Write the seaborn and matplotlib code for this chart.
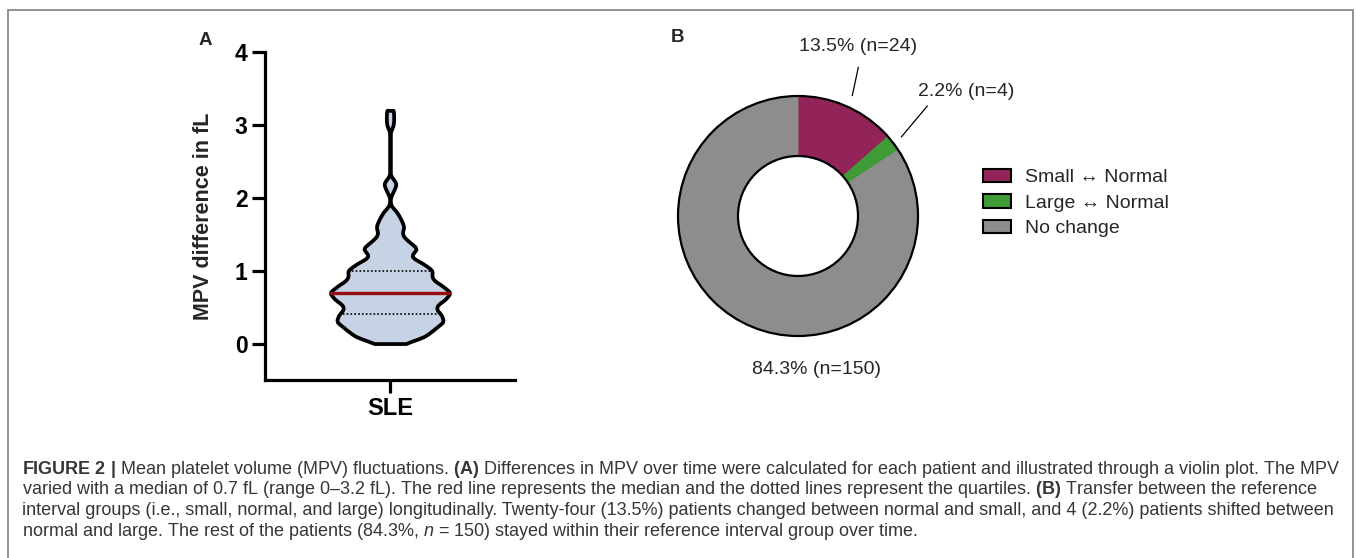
import numpy as np
import pandas as pd
import matplotlib
matplotlib.use("Agg")
import matplotlib.pyplot as plt
from matplotlib import font_manager
from matplotlib.patches import Rectangle, Circle
import seaborn as sns

# ---------------- data ----------------
# Panel A: MPV difference (fL) per patient -> value levels and number of patients at each level
mpv_levels = [0.0, 0.1, 0.2, 0.3, 0.4, 0.5, 0.6, 0.7, 0.8, 0.9,
              1.0, 1.1, 1.2, 1.3, 1.4, 1.5, 1.6, 1.7, 1.8, 1.9,
              2.0, 2.1, 2.2, 2.3, 2.4, 2.5, 2.6, 2.7, 2.8, 2.9,
              3.0, 3.1, 3.2]
mpv_counts = [4, 10, 12, 15, 14, 12, 15, 17, 14, 11,
              12, 9, 5, 8, 5, 3, 4, 3, 2, 0,
              0, 1, 2, 0, 0, 0, 0, 0, 0, 0,
              1, 1, 1]
group_label = "SLE"
y_ticks = [0, 1, 2, 3, 4]
y_label = "MPV difference in fL"

# Panel B: transfer between reference interval groups
change_labels = ["Small \u2194 Normal", "Large \u2194 Normal", "No change"]
change_counts = [24, 4, 150]

caption_lines = [
    r"$\mathbf{FIGURE\ 2\ |}$ Mean platelet volume (MPV) fluctuations. $\mathbf{(A)}$ Differences in MPV over time were calculated for each patient and illustrated through a violin plot. The MPV",
    r"varied with a median of 0.7 fL (range 0–3.2 fL). The red line represents the median and the dotted lines represent the quartiles. $\mathbf{(B)}$ Transfer between the reference",
    "interval groups (i.e., small, normal, and large) longitudinally. Twenty-four (13.5%) patients changed between normal and small, and 4 (2.2%) patients shifted between",
    r"normal and large. The rest of the patients (84.3%, $\mathit{n}$ = 150) stayed within their reference interval group over time.",
]

# ---------------- styles ----------------
violin_color = "#c5d3e5"
median_color = "#980c10"
change_colors = ["#93245a", "#3e9b36", "#8d8d8d"]
caption_color = "#363636"

sns.set_style("ticks")
plt.rcParams["font.family"] = ["Liberation Sans", "DejaVu Sans"]

names = {f.name for f in font_manager.fontManager.ttflist}
cap_family = "Liberation Sans Narrow" if "Liberation Sans Narrow" in names else "Liberation Sans"
plt.rcParams["mathtext.fontset"] = "custom"
plt.rcParams["mathtext.rm"] = cap_family
plt.rcParams["mathtext.bf"] = cap_family + ":bold"
plt.rcParams["mathtext.it"] = cap_family + ":italic"

W, H = 1357, 558
fig = plt.figure(figsize=(W / 100, H / 100), dpi=100)
fig.patch.set_facecolor("white")


def fx(px):
    return px / W


def fy(py):
    return 1 - py / H


# outer frame
fig.patches.append(Rectangle((fx(8), -0.05), fx(1353) - fx(8), fy(10) + 0.05,
                             transform=fig.transFigure, fill=False,
                             edgecolor="#8a8a8a", linewidth=1.3, zorder=0))

# ---------------- Panel A: violin ----------------
axA = fig.add_axes([fx(265), fy(380), fx(515) - fx(265), fy(52) - fy(380)])
mpv = np.repeat(np.array(mpv_levels), mpv_counts)
dfA = pd.DataFrame({"group": [group_label] * len(mpv), "mpv": mpv})
sns.violinplot(data=dfA, x="group", y="mpv", ax=axA, cut=0, inner="quart",
               bw_adjust=0.29, width=0.475, color=violin_color, saturation=1,
               linewidth=2.7, linecolor="black")

inner = sorted(axA.lines, key=lambda l: float(np.mean(l.get_ydata())))
if len(inner) == 3:
    for ln in (inner[0], inner[2]):
        ln.set_color("black")
        ln.set_linestyle((0, (1.0, 1.3)))
        ln.set_linewidth(1.2)
    inner[1].set_color(median_color)
    inner[1].set_linestyle("-")
    inner[1].set_linewidth(2.4)

axA.set_xlim(-0.5, 0.5)
axA.set_ylim(-0.5, 4)
axA.set_yticks(y_ticks)
axA.set_xlabel("")
axA.set_ylabel(y_label, fontsize=15.5, fontweight="bold")
axA.yaxis.set_label_coords(-0.205, 0.5)
sns.despine(ax=axA)
for sp in ("left", "bottom"):
    axA.spines[sp].set_linewidth(2.3)
    axA.spines[sp].set_color("black")
axA.tick_params(axis="both", direction="out", length=9.5, width=2.3,
                pad=3, colors="black")
for lab in axA.get_yticklabels():
    lab.set_fontweight("bold")
    lab.set_fontsize(16.5)
for lab in axA.get_xticklabels():
    lab.set_fontweight("bold")
    lab.set_fontsize(17)
axA.set_facecolor("none")

fig.text(fx(205.5), fy(40.5), "A", fontsize=13.5, fontweight="bold",
         ha="center", va="center")

# ---------------- Panel B: donut ----------------
R_PX = 120
L = 1.6
side = 2 * L * R_PX
cx, cy = 798, 216
axB = fig.add_axes([fx(cx - side / 2), fy(cy + side / 2), side / W, side / H])
wedges, _ = axB.pie(change_counts, colors=change_colors, startangle=90,
                    counterclock=False, radius=1,
                    wedgeprops=dict(width=0.5, linewidth=0.6))
for w, c in zip(wedges, change_colors):
    w.set_edgecolor(c)
axB.add_patch(Circle((0, 0), 1.0, fill=False, edgecolor="black", linewidth=1.6, zorder=5))
axB.add_patch(Circle((0, 0), 0.5, fill=False, edgecolor="black", linewidth=1.6, zorder=5))
axB.set_xlim(-L, L)
axB.set_ylim(-L, L)
axB.axis("off")

total = sum(change_counts)
label_layout = [
    dict(line=(1.10, (0.503, 1.24)), text=(0.503, 1.41), ha="center"),
    dict(line=(1.085, (1.078, 0.917)), text=(1.0, 1.036), ha="left"),
    dict(line=None, text=(0.156, -1.283), ha="center"),
]
for w, n, lay in zip(wedges, change_counts, label_layout):
    pct = 100 * n / total
    if lay["line"] is not None:
        r0, end = lay["line"]
        th = np.deg2rad((w.theta1 + w.theta2) / 2)
        axB.plot([r0 * np.cos(th), end[0]], [r0 * np.sin(th), end[1]],
                 color="black", linewidth=0.9, clip_on=False)
    axB.text(lay["text"][0], lay["text"][1], f"{pct:.1f}% (n={n})",
             fontsize=14, ha=lay["ha"], va="center", clip_on=False)

leg = fig.legend(wedges, change_labels, loc="center left",
                 bbox_to_anchor=(fx(983), fy(203)), bbox_transform=fig.transFigure,
                 frameon=False, fontsize=14, handlelength=1.45, handleheight=0.68,
                 handletextpad=0.72, labelspacing=0.4, borderpad=0, borderaxespad=0)
for h in leg.legend_handles:
    h.set_edgecolor("black")
    h.set_linewidth(1.5)

fig.text(fx(678), fy(37.5), "B", fontsize=13.5, fontweight="bold",
         ha="center", va="center")

# ---------------- caption ----------------
renderer = fig.canvas.get_renderer()
base = 12.0
baselines = [473.5, 494.2, 514.9, 535.6]
texts = []
for line, yb in zip(caption_lines, baselines):
    t = fig.text(fx(22), fy(yb), line, fontsize=base, family=cap_family,
                 color=caption_color, ha="left", va="baseline")
    texts.append(t)
w1 = texts[0].get_window_extent(renderer).width
size = base * (1334 - 22) / w1
for t in texts:
    t.set_fontsize(size)

fig.savefig("out.png", dpi=100, facecolor="white")
